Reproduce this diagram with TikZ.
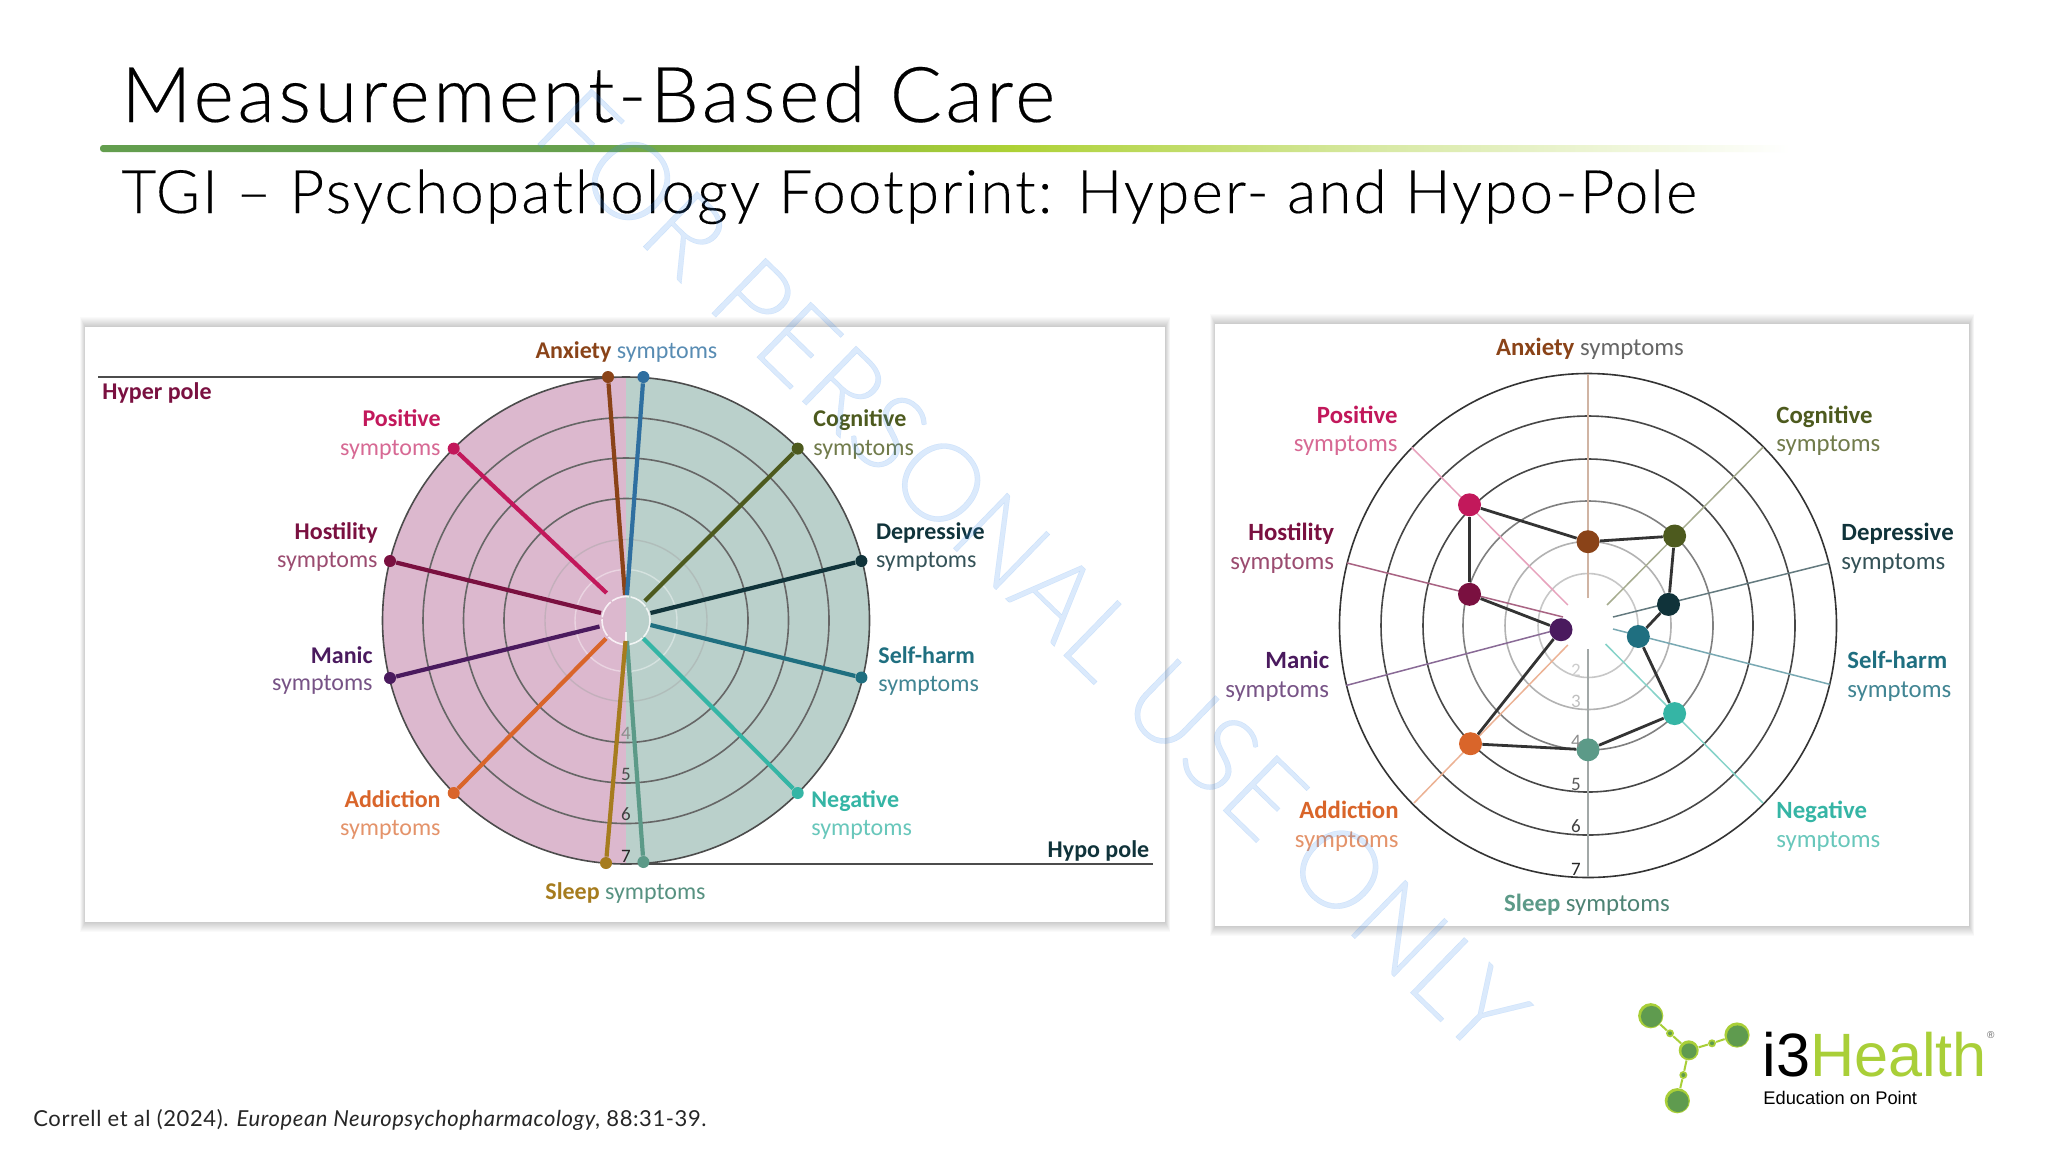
\documentclass[tikz,border=0pt]{standalone}
\usepackage{fontspec}
\setmainfont{Lato}
\newfontfamily\ttl[FakeBold=0.25]{Lato Light}
\newfontfamily\lbl{Carlito}
\newfontfamily\hv{Liberation Sans}
\definecolor{cAnx}{HTML}{8A4318}\definecolor{cAnxB}{HTML}{2F6FA0}
\definecolor{cPos}{HTML}{C2185B}\definecolor{cHos}{HTML}{7A1040}
\definecolor{cMan}{HTML}{4A1A5E}\definecolor{cAdd}{HTML}{D9652A}
\definecolor{cSlp}{HTML}{A67C1E}\definecolor{cSlpT}{HTML}{5C9A88}
\definecolor{cNeg}{HTML}{35B5A5}\definecolor{cSel}{HTML}{1F6F80}
\definecolor{cDep}{HTML}{10333A}\definecolor{cCog}{HTML}{4D5A1E}
\definecolor{pinkfill}{HTML}{DCB8CE}\definecolor{tealfill}{HTML}{BAD0CB}
\definecolor{lime}{HTML}{A9CF38}\definecolor{leaf}{HTML}{5F9B4F}
\definecolor{wm}{HTML}{3B8CF2}
\pgfdeclarehorizontalshading{barshade}{100bp}{color(0bp)=(leaf!95!lime); color(25bp)=(leaf!95!lime); color(39bp)=(leaf!90!lime); color(52bp)=(lime!95!yellow); color(63bp)=(lime!45!white); color(75bp)=(white); color(100bp)=(white)}
\tikzset{
  x=0.5pt,y=-0.5pt,
  lab/.style={inner sep=0pt,yshift=-1.2pt,font=\lbl\fontsize{12}{14}\selectfont},
  rlab/.style={inner sep=0pt,yshift=-1.2pt,font=\lbl\fontsize{12.4}{14}\selectfont},
  ring/.style={draw=black!70,line width=0.8pt},
  spokeL/.style={line width=2.1pt},
  spokeR/.style={line width=0.75pt},
  ldot/.style={circle,inner sep=0pt,minimum size=6pt},
  rdot/.style={circle,inner sep=0pt,minimum size=11.5pt},
  poly/.style={draw=black!80,line width=1.4pt},
  numlab/.style={inner sep=0pt,font=\lbl\fontsize{9.5}{11}\selectfont},
  panel/.style={fill=white},
  atom/.style={circle,inner sep=0pt,fill=lime},
  core/.style={circle,inner sep=0pt,fill=leaf},
  stem/.style={draw=lime,line width=1pt},
}
\newcommand{\Lb}[6][lab]{\node[#1,anchor=#4,text=#5] (#2) at (#3) {#6};}
\begin{document}
\begin{tikzpicture}
\useasboundingbox (0,0) rectangle (2048,1152);
\fill[white] (0,0) rectangle (2048,1152);

% title
\node[inner sep=0pt,anchor=base west,font=\ttl\addfontfeatures{LetterSpace=4.7}\fontsize{38.5}{40}\selectfont] (title) at (121,122) {Measurement-Based Care};
\shade[shading=barshade,rounded corners=1.5pt] (100,145) rectangle (1790,152);
\coordinate (barstart) at (100,148);
\node[inner sep=0pt,anchor=base west,font=\ttl\addfontfeatures{LetterSpace=3.7}\fontsize{30}{34}\selectfont] (subtitle) at (121,213) {TGI – Psychopathology Footprint: Hyper- and Hypo-Pole};

% panel shadows
\foreach \i in {1,...,10}{
  \fill[black,opacity=0.02] (85-.5*\i,327-\i) rectangle (1165+.5*\i,922+\i);
  \fill[black,opacity=0.02] (1215-.5*\i,324-\i) rectangle (1969+.5*\i,926+\i);
}
\fill[panel] (85,327) rectangle (1165,922);
\fill[panel] (1215,324) rectangle (1969,926);

%---------- left radar
\coordinate (lc) at (626,620.5);
\begin{scope}
  \clip (lc) circle [radius=243.5];
  \fill[pinkfill] (380,370) rectangle (626,870);
  \fill[tealfill] (626,370) rectangle (875,870);
\end{scope}
\draw[white,opacity=.4,line width=.7pt] (lc) circle [radius=51];
\draw[black!35,opacity=.45,line width=.7pt] (lc) circle [radius=81];
\foreach \r in {122,162.5,203}{\draw[ring,black!60] (lc) circle [radius=\r];}
\draw[ring] (lc) circle [radius=243.5];
\draw[white,opacity=.8,line width=.8pt,dash pattern=on 9pt off .8pt] (lc) circle [radius=24];
\draw[white,opacity=.8,line width=.7pt] (626,632) -- (626,644);
\draw[black!70,line width=.8pt] (98,377) -- (608,377);
\draw[black!70,line width=.8pt] (643,864) -- (1153,864);

\foreach \n/\c/\ox/\oy/\ix/\iy in {
 lAnx/cAnx/608/377/625/595, lAnxB/cAnxB/643.4/377/627/595,
 lPos/cPos/453.7/448.6/606.6/593, lCog/cCog/797.7/448.6/644.8/601,
 lDep/cDep/861.4/561/650.5/613, lSel/cSel/861.4/677.5/650.5/625,
 lNeg/cNeg/797.7/793/643.4/638.5, lSlpT/cSlpT/643.4/862/627/641,
 lSlp/cSlp/606/863/625.5/641, lAdd/cAdd/453.7/793/606/638.5,
 lMan/cMan/390/678/599.5/626.5, lHos/cHos/390/561/601/613}{
  \node[ldot,fill=\c] (\n) at (\ox,\oy) {};
  \coordinate (\n In) at (\ix,\iy);
  \draw[spokeL,\c] (\n In) -- (\n);
}
\foreach \t/\y/\g [count=\k] in {4/733/45,5/774/70,6/814/75,7/856/85}{
  \node[numlab,text=black!\g] (ln\k) at (626,\y) {\t};
}

\node[lab,anchor=mid,text=cAnx] (lAnxT) at (626.5,351) {\textbf{Anxiety} \textcolor{cAnxB!80!white}{symptoms}};
\node[lab,anchor=mid,text=cSlp] (lSlpTx) at (625.5,892) {\textbf{Sleep} \textcolor{cSlpT!95!black}{symptoms}};
\Lb{lHyper}{102,392}{mid west}{cHos}{\textbf{Hyper pole}}
\Lb{lHypo}{1149.6,850}{mid east}{cDep}{\textbf{Hypo pole}}
\Lb{lPosT}{441,419}{mid east}{cPos}{\textbf{Positive}}
\Lb{lPosS}{441,448}{mid east}{cPos!65!white}{symptoms}
\Lb{lHosT}{378,532}{mid east}{cHos}{\textbf{Hostility}}
\Lb{lHosS}{378,560}{mid east}{cHos!75!white}{symptoms}
\Lb{lManT}{373,656}{mid east}{cMan}{\textbf{Manic}}
\Lb{lManS}{373,683.5}{mid east}{cMan!75!white}{symptoms}
\Lb{lAddT}{441,800}{mid east}{cAdd}{\textbf{Addiction}}
\Lb{lAddS}{441,828}{mid east}{cAdd!70!white}{symptoms}
\Lb{lCogT}{813,419}{mid west}{cCog}{\textbf{Cognitive}}
\Lb{lCogS}{813,448}{mid west}{cCog!80!white}{symptoms}
\Lb{lDepT}{875.6,532}{mid west}{cDep}{\textbf{Depressive}}
\Lb{lDepS}{875.6,560}{mid west}{cDep!85!white}{symptoms}
\Lb{lSelT}{878,656}{mid west}{cSel}{\textbf{Self-harm}}
\Lb{lSelS}{878,684}{mid west}{cSel!85!white}{symptoms}
\Lb{lNegT}{811,800}{mid west}{cNeg}{\textbf{Negative}}
\Lb{lNegS}{811,828}{mid west}{cNeg!75!white}{symptoms}

%---------- right radar
\coordinate (rc) at (1588,625.5);
\draw[black!22,line width=.8pt] (rc) circle [x radius=50,y radius=52];
\draw[black!30,line width=.8pt] (rc) circle [x radius=83,y radius=84];
\draw[ring,black!50] (rc) circle [x radius=125,y radius=124.5];
\foreach \rx/\ry in {165/166.5,207/209.5}{\draw[ring,black!72] (rc) circle [x radius=\rx,y radius=\ry];}
\draw[ring,black!80] (rc) circle [x radius=248.5,y radius=252];

\foreach \n/\c/\ox/\oy/\ix/\iy in {
 rAnxO/cAnx!40!white/1588/373.5/1588/598,
 rSlpO/cSlpT!25!black!40!white/1588/877/1588/649,
 rPosO/cPos!40!white/1411.6/447.3/1567.8/605,
 rCogO/cCog!50!white/1763.2/447/1607/605,
 rDepO/cDep!65!white/1829.7/563/1613/617,
 rSelO/cSel!60!white/1829.7/684.3/1613/629,
 rNegO/cNeg!60!white/1763/803/1605.5/644,
 rAddO/cAdd!50!white/1414/803/1567.8/645,
 rManO/cMan!65!white/1346/685.5/1560/629,
 rHosO/cHos!65!white/1347/563/1563/617}{
  \coordinate (\n) at (\ox,\oy);
  \coordinate (\n In) at (\ix,\iy);
  \draw[spokeR,\c] (\n In) -- (\n);
}
\foreach \n/\c/\x/\y in {
 rAnx/cAnx/1588/541.7, rCog/cCog/1674.6/536, rDep/cDep/1668.5/604.4,
 rSel/cSel/1638.3/636.5, rNeg/cNeg/1674.6/713.6, rSlp/cSlpT/1588/749.8,
 rAdd/cAdd/1470.5/743.7, rMan/cMan/1561/629.7, rHos/cHos/1469.5/594.3,
 rPos/cPos/1469.5/504.8}{
  \node[rdot,fill=\c] (\n) at (\x,\y) {};
}
\draw[poly] (rAnx) -- (rCog);
\draw[poly] (rCog) -- (rDep);
\draw[poly] (rDep) -- (rSel);
\draw[poly] (rSel) -- (rNeg);
\draw[poly] (rNeg) -- (rSlp);
\draw[poly] (rSlp) -- (rAdd);
\draw[poly] (rAdd) -- (rMan);
\draw[poly] (rMan) -- (rHos);
\draw[poly] (rHos) -- (rPos);
\draw[poly] (rPos) -- (rAnx);

\foreach \t/\y/\g [count=\k] in {2/670/20,3/701.6/25,4/741/45,5/784/65,6/826/75,7/869/85}{
  \node[numlab,text=black!\g] (rn\k) at (1576,\y) {\t};
}

\node[rlab,anchor=mid,text=cAnx] (rAnxT) at (1590,348) {\textbf{Anxiety} \textcolor{black!60}{symptoms}};
\node[rlab,anchor=mid,text=cSlpT] (rSlpT) at (1587,903.6) {\textbf{Sleep} \textcolor{cSlpT!85!black}{symptoms}};
\Lb[rlab]{rPosT}{1398,416}{mid east}{cPos}{\textbf{Positive}}
\Lb[rlab]{rPosS}{1398,444.5}{mid east}{cPos!65!white}{symptoms}
\Lb[rlab]{rHosT}{1334.5,533}{mid east}{cHos}{\textbf{Hostility}}
\Lb[rlab]{rHosS}{1334.5,562}{mid east}{cHos!75!white}{symptoms}
\Lb[rlab]{rManT}{1329.5,661.4}{mid east}{cMan}{\textbf{Manic}}
\Lb[rlab]{rManS}{1329.5,690}{mid east}{cMan!75!white}{symptoms}
\Lb[rlab]{rAddT}{1399,811}{mid east}{cAdd}{\textbf{Addiction}}
\Lb[rlab]{rAddS}{1399,840}{mid east}{cAdd!70!white}{symptoms}
\Lb[rlab]{rCogT}{1776,416}{mid west}{cCog}{\textbf{Cognitive}}
\Lb[rlab]{rCogS}{1776,444.5}{mid west}{cCog!80!white}{symptoms}
\Lb[rlab]{rDepT}{1841,533}{mid west}{cDep}{\textbf{Depressive}}
\Lb[rlab]{rDepS}{1841,562}{mid west}{cDep!85!white}{symptoms}
\Lb[rlab]{rSelT}{1847,661.4}{mid west}{cSel}{\textbf{Self-harm}}
\Lb[rlab]{rSelS}{1847,690}{mid west}{cSel!85!white}{symptoms}
\Lb[rlab]{rNegT}{1776,811}{mid west}{cNeg}{\textbf{Negative}}
\Lb[rlab]{rNegS}{1776,840}{mid west}{cNeg!75!white}{symptoms}

%---------- footer
\node[inner sep=0pt,anchor=base west,font=\addfontfeatures{LetterSpace=2.7}\fontsize{11}{13}\selectfont,text=black!85] (foot) at (33,1126) {Correll et al (2024). \textit{European Neuropsychopharmacology}, 88:31-39.};

%---------- logo
\node[atom,minimum size=12.6pt] (a1) at (1650.7,1015.7) {};
\node[atom,minimum size=12.6pt] (a2) at (1737,1035) {};
\node[atom,minimum size=10pt] (a3) at (1688.7,1050.3) {};
\node[atom,minimum size=12.6pt] (a4) at (1677.3,1100.7) {};
\node[atom,minimum size=4pt] (b1) at (1670,1033.3) {};
\node[atom,minimum size=4pt] (b2) at (1712,1043.3) {};
\node[atom,minimum size=4pt] (b3) at (1683.3,1075) {};
\draw[stem] (a1) -- (b1); \draw[stem] (b1) -- (a3);
\draw[stem] (a2) -- (b2); \draw[stem] (b2) -- (a3);
\draw[stem] (a4) -- (b3); \draw[stem] (b3) -- (a3);
\node[core,minimum size=10.6pt] (c1) at (1651.5,1016.5) {};
\node[core,minimum size=10.6pt] (c2) at (1737.5,1036) {};
\node[core,minimum size=7.6pt] (c3) at (1689,1051) {};
\node[core,minimum size=10.6pt] (c4) at (1678,1101.5) {};
\node[core,minimum size=2pt] (d1) at (1670,1033.3) {};
\node[core,minimum size=2pt] (d2) at (1712,1043.3) {};
\node[core,minimum size=2pt] (d3) at (1683.3,1075) {};
\node[inner sep=0pt,anchor=base west,font=\hv\fontsize{30.6}{33}\selectfont] (logo) at (1762,1076.7) {i3\textcolor{lime}{Health}};
\node[inner sep=0pt,font=\hv\fontsize{5}{6}\selectfont,text=black!60] (reg) at (1990.7,1035) {®};
\node[inner sep=0pt,anchor=base west,font=\hv\fontsize{9.15}{10}\selectfont] (edu) at (1763,1104) {Education on Point};

%---------- watermark
\node[inner sep=0pt,rotate=-44.2,font=\ttl\fontsize{54.5}{57}\selectfont,text=wm,text opacity=0.18] (mark) at (1032,571) {FOR PERSONAL USE ONLY};
\end{tikzpicture}
\end{document}
